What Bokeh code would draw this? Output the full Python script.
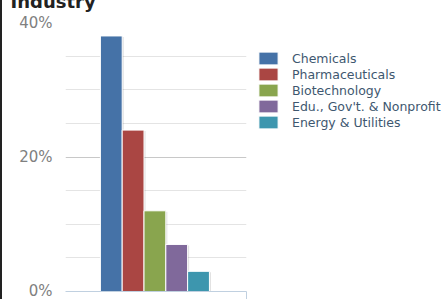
from bokeh.plotting import figure
from bokeh.models import Range1d, FixedTicker, Legend, LegendItem, CustomJSTickFormatter
from bokeh.embed import file_html
from bokeh.resources import INLINE

# ---- data ----
categories = ["Chemicals", "Pharmaceuticals", "Biotechnology",
              "Edu., Gov't. & Nonprofit", "Energy & Utilities"]
values = [38, 24, 12, 7, 3]
colors = ["#4572A7", "#AA4643", "#89A54E", "#80699B", "#3D96AE"]
y_major_ticks = [0, 20, 40]
y_minor_ticks = [5, 10, 15, 25, 30, 35]
title_text = "Industry"

HIDE = 26  # part of the page scrolled off the top, as in the reference crop
p = figure(width=443, height=299 + HIDE, output_backend="svg", toolbar_location=None,
           x_range=Range1d(-2.1, 6.2), y_range=Range1d(0, 40),
           min_border_left=63, min_border_right=199, min_border_top=22 + HIDE,
           min_border_bottom=8, frame_width=181, frame_height=269,
           styles={"border-left": "2px solid #222", "margin-top": f"-{HIDE}px"})
p.outline_line_color = None
p.background_fill_color = "white"
p.border_fill_color = "white"

p.title.text = title_text
p.title.text_font = "DejaVu Sans"
p.title.text_font_style = "bold"
p.title.text_font_size = "18px"
p.title.text_color = "#222222"
p.title.offset = -55
p.title.standoff = 22

xs = list(range(len(values)))
# shadows
p.vbar(x=[i + 0.07 for i in xs], top=[v - 0.15 for v in values], width=1.0,
       fill_color="black", fill_alpha=0.12, line_color=None)
renderers = []
for i, (c, v, col) in enumerate(zip(categories, values, colors)):
    r = p.vbar(x=[i], top=[v], width=1.0, fill_color=col, line_color="white", line_width=1)
    renderers.append(r)

# y axis
p.yaxis.ticker = FixedTicker(ticks=y_major_ticks, minor_ticks=y_minor_ticks)
p.yaxis.formatter = CustomJSTickFormatter(code="return tick + '%';")
p.yaxis.axis_line_color = None
p.yaxis.major_tick_line_color = None
p.yaxis.minor_tick_line_color = None
p.yaxis.major_label_standoff = 7
p.yaxis.major_label_text_font = "DejaVu Sans"
p.yaxis.major_label_text_font_size = "15px"
p.yaxis.major_label_text_color = "#808080"

p.ygrid.grid_line_color = "#c8c8c8"
p.ygrid.grid_line_width = 1
p.ygrid.minor_grid_line_color = "#e4e4e4"
p.xgrid.grid_line_color = None

# x axis
p.xaxis.ticker = FixedTicker(ticks=[6.2])
p.xaxis.axis_line_color = "#C0D0E0"
p.xaxis.axis_line_width = 1
p.xaxis.major_tick_line_color = "#C0D0E0"
p.xaxis.major_tick_out = 8
p.xaxis.major_tick_in = 0
p.xaxis.minor_tick_line_color = None
p.xaxis.major_label_text_color = None
p.xaxis.major_label_text_font_size = "1px"

legend = Legend(items=[LegendItem(label=c, renderers=[r]) for c, r in zip(categories, renderers)],
                location=(10, 161), margin=0, padding=0, spacing=0,
                glyph_width=24, glyph_height=16, label_height=16,
                label_standoff=12, label_text_font="DejaVu Sans",
                label_text_font_size="12.5px", label_text_color="#3E576F",
                border_line_color=None, background_fill_alpha=0)
p.add_layout(legend, "right")

open("out.html", "w").write(file_html(p, INLINE))
